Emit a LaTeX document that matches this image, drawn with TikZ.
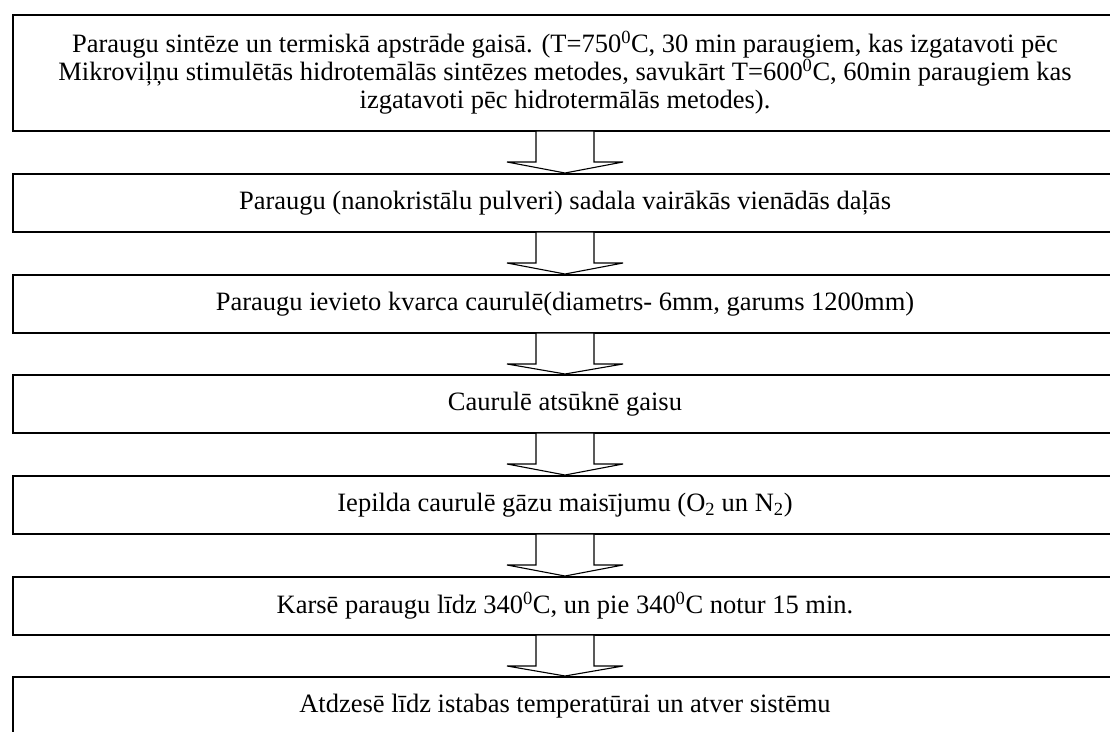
\documentclass[tikz,border=0pt]{standalone}
\usepackage{fontspec}
\setmainfont{Liberation Serif}
\usetikzlibrary{calc}
\tikzset{
  stepbox/.style={draw=black, line width=1.5pt, rectangle, minimum width=1104pt,
    minimum height=58pt, inner sep=0pt, outer sep=0pt, fill=white,
    font=\fontsize{26.5}{28}\selectfont, align=center},
  blockarr/.style={draw=black, line width=1.1pt, fill=white, line join=miter}
}
\newcommand\flowarrow[2]{%
  \draw[blockarr] ($(#1.south)+(-29,0)$) -- ++(0,31) -- ++(-29,0)
    -- ($(#2.north)+(0,-1)$) -- ($(#1.south)+(58,31)$) -- ++(-29,0)
    -- ($(#1.south)+(29,0)$) -- cycle;}
\begin{document}
\begin{tikzpicture}[x=1pt,y=-1pt]
\path[use as bounding box, clip] (0,0) rectangle (1110,731);
\fill[white] (0,0) rectangle (1110,731);
\node[stepbox, minimum height=116pt] (b1) at (565,73)
  {Paraugu sintēze un termiskā apstrāde gaisā. (T=750\textsuperscript{0}C, 30 min paraugiem, kas izgatavoti pēc\\
   Mikroviļņu stimulētās hidrotemālās sintēzes metodes, savukārt T=600\textsuperscript{0}C, 60min paraugiem kas\\
   izgatavoti pēc hidrotermālās metodes).};
\node[stepbox] (b2) at (565,203) {Paraugu (nanokristālu pulveri) sadala vairākās vienādās daļās};
\node[stepbox] (b3) at (565,304) {Paraugu ievieto kvarca caurulē(diametrs- 6mm, garums 1200mm)};
\node[stepbox] (b4) at (565,404) {Caurulē atsūknē gaisu};
\node[stepbox] (b5) at (565,505) {Iepilda caurulē gāzu maisījumu (O\textsubscript{2} un N\textsubscript{2})};
\node[stepbox] (b6) at (565,606) {Karsē paraugu līdz 340\textsuperscript{0}C, un pie 340\textsuperscript{0}C notur 15 min.};
\node[stepbox] (b7) at (565,706) {Atdzesē līdz istabas temperatūrai un atver sistēmu};
\flowarrow{b1}{b2}
\flowarrow{b2}{b3}
\flowarrow{b3}{b4}
\flowarrow{b4}{b5}
\flowarrow{b5}{b6}
\flowarrow{b6}{b7}
\end{tikzpicture}
\end{document}
